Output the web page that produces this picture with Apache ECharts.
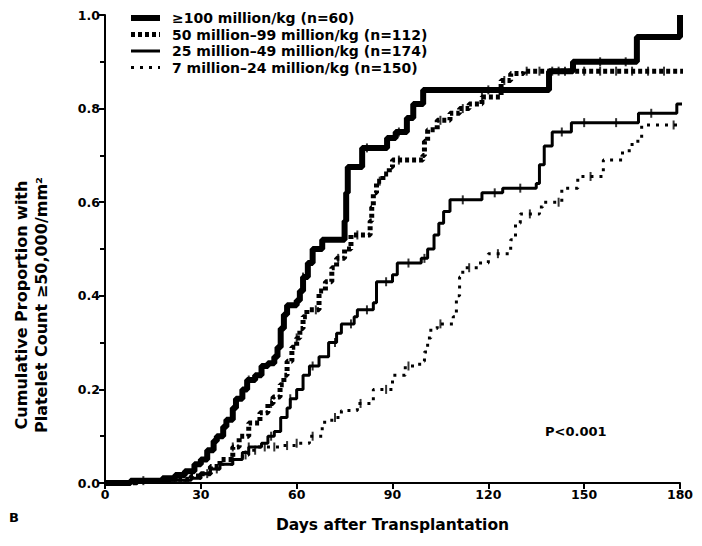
<!DOCTYPE html>
<html>
<head>
<meta charset="utf-8">
<script src="https://cdn.jsdelivr.net/npm/echarts@6/dist/echarts.min.js"></script>
<style>
html,body{margin:0;padding:0;background:#fff;}
#c{width:702px;height:546px;}
</style>
</head>
<body>
<div id="c"></div>
<script>
// ---- data (day, cumulative proportion) : jump points of step curves ----
const seriesNames = [
  "\u2265100 million/kg (n=60)",
  "50 million\u201399 million/kg (n=112)",
  "25 million\u201349 million/kg (n=174)",
  "7 million\u201324 million/kg (n=150)"
];
const xTicks = [0, 30, 60, 90, 120, 150, 180];
const yTicks = [0.0, 0.2, 0.4, 0.6, 0.8, 1.0];

const s1 = [[0,0],[8,0.005],[18,0.01],[22,0.017],[25,0.025],[28,0.04],[30,0.05],[32,0.07],[34,0.09],[35,0.10],[37,0.12],[38,0.135],[40,0.16],[41,0.18],[43,0.20],[44.5,0.22],[47,0.23],[49,0.25],[51,0.256],[53,0.27],[54,0.29],[55,0.33],[56,0.36],[57,0.38],[60,0.39],[61,0.41],[62,0.44],[63.5,0.47],[65,0.50],[68,0.52],[75,0.56],[75.5,0.62],[76,0.675],[80.5,0.716],[88.3,0.737],[91,0.75],[94.5,0.78],[96.5,0.81],[99.6,0.84],[139,0.88],[146.5,0.90],[166.5,0.953],[180,1.0]];
const s2 = [[0,0],[10,0.003],[20,0.008],[27,0.015],[30,0.02],[33,0.035],[36,0.05],[40,0.077],[42,0.10],[45,0.128],[48.5,0.15],[51,0.17],[52.6,0.184],[54.8,0.21],[56,0.23],[57,0.26],[58.5,0.29],[60,0.31],[61,0.33],[62,0.355],[63.2,0.37],[67,0.41],[69,0.43],[71,0.46],[72.5,0.48],[75,0.50],[77,0.53],[83,0.56],[83.5,0.59],[84,0.62],[85,0.645],[87,0.66],[89,0.675],[90,0.69],[99.5,0.70],[100,0.73],[101,0.755],[104,0.775],[108,0.79],[111,0.80],[114,0.81],[118,0.825],[124,0.86],[127,0.875],[131,0.88],[182,0.88]];
const s3 = [[0,0],[10,0.003],[20,0.006],[27,0.01],[30,0.02],[33,0.03],[36,0.04],[40,0.05],[43,0.065],[45,0.077],[49,0.085],[51,0.10],[53,0.11],[55,0.14],[57,0.16],[58,0.18],[60,0.20],[62,0.23],[64,0.25],[67,0.27],[70,0.30],[72.5,0.32],[74,0.34],[78,0.355],[79,0.37],[84,0.385],[85,0.43],[90,0.445],[91.5,0.47],[99,0.48],[101,0.50],[103,0.53],[104.5,0.555],[106,0.58],[108,0.605],[118,0.62],[124.5,0.63],[135,0.64],[136,0.68],[137.5,0.72],[140,0.75],[146,0.77],[167,0.79],[179,0.81],[182,0.81]];
const s4 = [[0,0],[10,0.003],[20,0.006],[27,0.01],[30,0.02],[33,0.03],[36,0.04],[40,0.05],[43,0.06],[45,0.07],[48,0.077],[55,0.08],[60,0.085],[64,0.10],[68,0.13],[71,0.14],[74,0.155],[79,0.17],[84,0.20],[90,0.23],[94,0.25],[98.5,0.26],[100,0.28],[101,0.31],[102,0.33],[104,0.34],[109,0.355],[110,0.40],[111,0.44],[112,0.46],[117,0.47],[120,0.49],[127,0.52],[128.5,0.555],[130,0.575],[136,0.59],[137,0.60],[143,0.63],[148,0.655],[156,0.69],[162,0.71],[165,0.73],[168,0.765],[182,0.765]];

// censoring days (tick marks)
const c1 = [12, 45, 62, 82, 92, 120, 142, 155, 163];
const c2 = [40, 52, 60, 66, 73, 79, 86, 92, 105, 112, 118, 125, 132, 136, 140, 144, 150, 155, 160, 165, 170, 175];
const c3 = [35, 45, 52, 58, 65, 72, 77, 82, 88, 95, 100, 112, 122, 130, 143, 150, 160, 171];
const c4 = [32, 40, 44, 47, 50, 53, 57, 60, 65, 72, 80, 88, 95, 105, 114, 123, 133, 142, 152, 178];

function valAt(curve, t){
  let v = curve[0][1];
  for (const p of curve){ if (p[0] <= t) v = p[1]; else break; }
  return v;
}
const curves = [s1, s2, s3, s4];
const censors = [c1, c2, c3, c4];
const styles = [
  {width:6, dash:null},
  {width:5, dash:[4,3]},
  {width:3, dash:null},
  {width:3, dash:[3,6]}
];

const FONT = '"DejaVu Sans", "Liberation Sans", Arial, sans-serif';
const series = [];
curves.forEach((c, i) => {
  series.push({
    name: seriesNames[i], type:'line', step:'end', data:c,
    showSymbol:false, symbol:'none', clip:true,
    lineStyle:{color:'#000', width:styles[i].width, type:styles[i].dash || 'solid', cap:'butt'},
    itemStyle:{color:'#000'}, z: 3
  });
  series.push({
    type:'scatter', data: censors[i].map(d => [d, valAt(c, d)]),
    symbol:'rect', symbolSize:[2, 9], itemStyle:{color:'#000'}, silent:true, z: 4
  });
});

// manual legend (line samples + labels)
const legendRowsY = [18, 34.5, 51, 67.5];
const legendGraphics = [];
seriesNames.forEach((n, i) => {
  const y = legendRowsY[i];
  legendGraphics.push({
    type:'line', shape:{x1:131, y1:y, x2:160, y2:y},
    style:{stroke:'#000', lineWidth:styles[i].width, lineDash:styles[i].dash, lineCap:'butt'}
  });
  legendGraphics.push({
    type:'text', x:172, y:y,
    style:{text:n, fontFamily:FONT, fontWeight:'bold', fontSize:14, lineHeight:15, fill:'#000', verticalAlign:'middle'}
  });
});

const chart = echarts.init(document.getElementById('c'), null, {renderer:'svg'});
chart.setOption({
  animation:false,
  backgroundColor:'#fff',
  grid:{left:105, right:22, top:15, bottom:63},
  xAxis:{
    type:'value', min:0, max:180, interval:30,
    axisLine:{lineStyle:{color:'#000', width:2}},
    axisTick:{length:6, lineStyle:{color:'#000', width:2}},
    axisLabel:{fontFamily:FONT, fontWeight:'bold', fontSize:12.5, color:'#000', margin:5,
      formatter: v => xTicks.includes(v) ? String(v) : ''},
    splitLine:{show:false},
    name:'Days after Transplantation', nameLocation:'middle', nameGap:34,
    nameTextStyle:{fontFamily:FONT, fontWeight:'bold', fontSize:15.5, color:'#000'}
  },
  yAxis:{
    type:'value', min:0, max:1, interval:0.2,
    axisLine:{show:true, lineStyle:{color:'#000', width:2}},
    axisTick:{show:true, length:6, lineStyle:{color:'#000', width:2}},
    minorTick:{show:true, splitNumber:2, length:5, lineStyle:{color:'#000', width:2}},
    axisLabel:{fontFamily:FONT, fontWeight:'bold', fontSize:12.5, color:'#000', margin:5,
      formatter: v => yTicks.some(t => Math.abs(t - v) < 1e-9) ? v.toFixed(1) : ''},
    splitLine:{show:false}
  },
  graphic: legendGraphics.concat([
    {type:'text', x:21, y:305, rotation:Math.PI/2,
      style:{text:'Cumulative Proportion with', fontFamily:FONT, fontWeight:'bold', fontSize:16, fill:'#000', align:'center', verticalAlign:'middle'}},
    {type:'text', x:41, y:305, rotation:Math.PI/2,
      style:{text:'Platelet Count \u226550,000/mm\u00B2', fontFamily:FONT, fontWeight:'bold', fontSize:16, fill:'#000', align:'center', verticalAlign:'middle'}},
    {type:'text', x:9, y:511, style:{text:'B', fontFamily:FONT, fontWeight:'bold', fontSize:13, fill:'#000'}},
    {type:'text', x:545, y:425, style:{text:'P<0.001', fontFamily:FONT, fontWeight:'bold', fontSize:13, fill:'#000'}}
  ]),
  series: series
});
</script>
</body>
</html>
